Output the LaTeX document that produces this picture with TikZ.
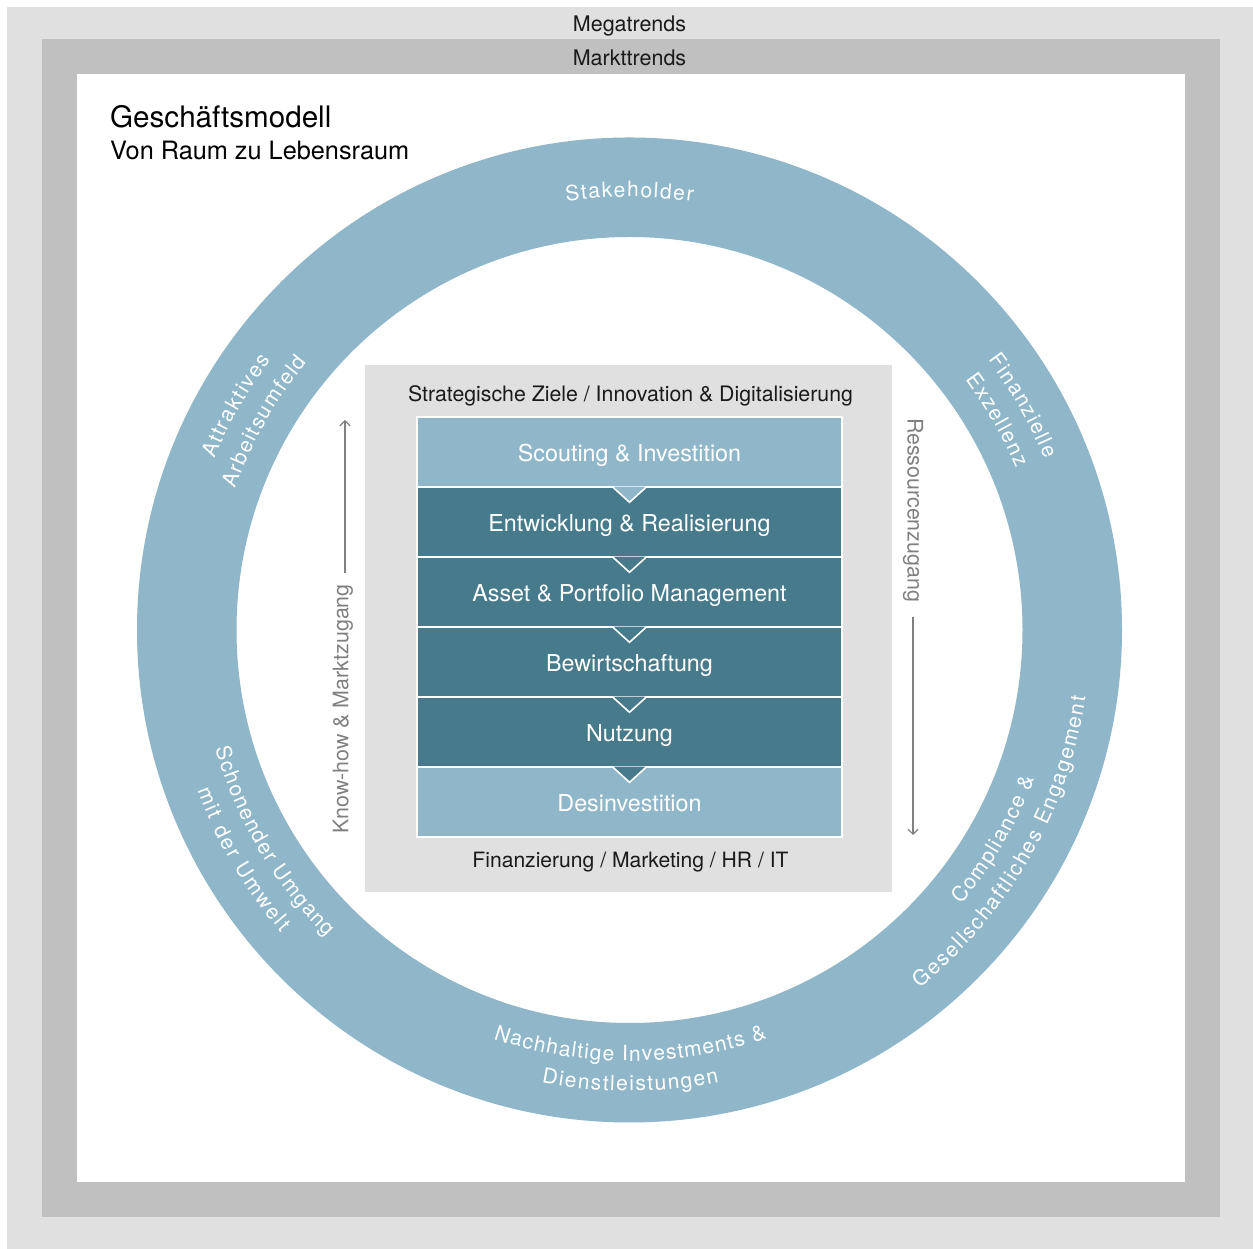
\documentclass[tikz,border=0pt]{standalone}
\usepackage{fontspec}
\setmainfont{TeX Gyre Heros}
\usetikzlibrary{decorations.text,arrows.meta,calc}
\definecolor{ltgray}{HTML}{E0E0E0}
\definecolor{mdgray}{HTML}{C0C0C0}
\definecolor{ringblue}{HTML}{8FB7C9}
\definecolor{darkteal}{HTML}{477A8B}
\definecolor{sidegray}{HTML}{808080}
\definecolor{inktext}{HTML}{1A1A1A}
\newcommand\ringfont{\fontsize{21}{25}\selectfont}
\newcommand\ringtext[4]{%
  \path[decorate, decoration={text along path, text={|\color{white}\ringfont|#4}, text align=fit to path}]
    ($(c)+(#2:#1pt)$) arc[start angle=#2, end angle=#3, radius=#1pt];}
\begin{document}
\begin{tikzpicture}[x=1pt,y=1pt,
  stagebox/.style={draw=white, line width=1.6pt, minimum width=425pt, minimum height=70pt,
    inner sep=0pt, text=white, font=\fontsize{23.3}{27}\selectfont, text height=20pt, text depth=0pt},
  plain/.style={inner sep=0pt, text=inktext},
  sidelabel/.style={inner sep=0pt, text=sidegray, font=\fontsize{21.4}{25}\selectfont},
  sidearrow/.style={draw=sidegray, line width=1.2pt, -{Straight Barb[length=5pt,width=10pt]}}]
\useasboundingbox (0,0) rectangle (1253,1249);
\fill[white] (0,0) rectangle (1253,1249);
\fill[ltgray] (7,0) rectangle (1253,1242);
\fill[mdgray] (42,32) rectangle (1220,1210);
\fill[white] (77,67) rectangle (1185,1175);

\node[plain, anchor=base, font=\fontsize{21.5}{25}\selectfont] (mega) at (629.5,1217) {Megatrends};
\node[plain, anchor=base, font=\fontsize{21.5}{25}\selectfont] (markt) at (629.5,1183) {Markttrends};
\node[plain, anchor=base west, text=black, font=\fontsize{29.6}{34}\selectfont] (title) at (110,1121) {Geschäftsmodell};
\node[plain, anchor=base west, text=black, font=\fontsize{25.3}{30}\selectfont] (subtitle) at (110,1089) {Von Raum zu Lebensraum};

% ring
\coordinate (c) at (629.5,619);
\fill[ringblue, even odd rule] (c) circle[radius=492.5pt] (c) circle[radius=393pt];

% central panel
\node[fill=ltgray, minimum width=527pt, minimum height=527pt, inner sep=0pt] (panel) at (628.5,620.5) {};
\node[plain, anchor=base, font=\fontsize{21.3}{25}\selectfont] (goals) at (630.5,847) {Strategische Ziele / Innovation \& Digitalisierung};
\node[plain, anchor=base, font=\fontsize{21.1}{25}\selectfont] (support) at (630.5,381) {Finanzierung / Marketing / HR / IT};

% stages
\node[stagebox, fill=ringblue] (s1) at (629.5,797) {Scouting \& Investition};
\node[stagebox, fill=darkteal] (s2) at (629.5,727) {Entwicklung \& Realisierung};
\node[stagebox, fill=darkteal] (s3) at (629.5,657) {Asset \& Portfolio Management};
\node[stagebox, fill=darkteal] (s4) at (629.5,587) {Bewirtschaftung};
\node[stagebox, fill=darkteal] (s5) at (629.5,517) {Nutzung};
\node[stagebox, fill=ringblue] (s6) at (629.5,447) {Desinvestition};
\foreach \a/\col in {s1/ringblue, s2/darkteal, s3/darkteal, s4/darkteal, s5/darkteal} {
  \fill[\col] ($(\a.south)+(-16,1.2)$) -- ($(\a.south)+(0,-14.5)$) -- ($(\a.south)+(16,1.2)$) -- cycle;
  \draw[white, line width=1.6pt] ($(\a.south)+(-16,0)$) -- ($(\a.south)+(0,-14.5)$) -- ($(\a.south)+(16,0)$);
}

% side arrows
\node[sidelabel, rotate=90] (kh) at (343,540) {Know-how \& Marktzugang};
\coordinate (khtip) at (345,829);
\draw[sidearrow, shorten <=11pt] (kh.east -| khtip) -- (khtip);
\node[sidelabel, rotate=-90] (rz) at (913,739) {Ressourcenzugang};
\coordinate (rztip) at (913,414);
\draw[sidearrow, shorten <=15pt] (rz.east -| rztip) -- (rztip);

% ring labels
\ringtext{433}{98.4}{81.6}{Stakeholder}
\ringtext{449}{157.6}{143.0}{Attraktives}
\ringtext{419}{160.3}{140.3}{Arbeitsumfeld}
\ringtext{449}{37.0}{22.4}{Finanzielle}
\ringtext{419}{36.7}{22.7}{Exzellenz}
\ringtext{431}{196.0}{225.4}{Schonender Umgang}
\ringtext{461}{200.4}{221.0}{mit der Umwelt}
\ringtext{431}{320.4}{339.9}{Compliance {\&}}
\ringtext{461}{309.0}{351.6}{Gesellschaftliches Engagement}
\ringtext{431}{251.6}{288.6}{Nachhaltige Investments {\&}}
\ringtext{461}{259.0}{281.2}{Dienstleistungen}
\end{tikzpicture}
\end{document}
